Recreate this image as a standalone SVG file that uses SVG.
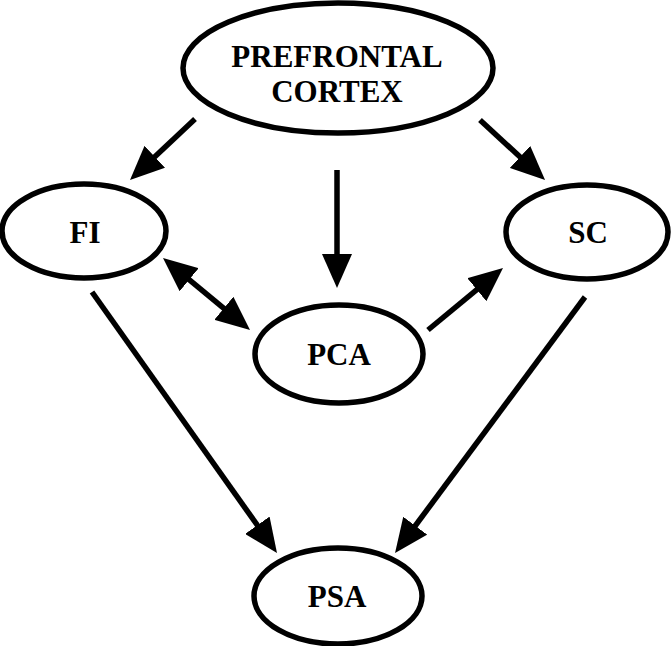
<svg xmlns="http://www.w3.org/2000/svg" width="672" height="646" viewBox="0 0 672 646">
<style>
.node ellipse{fill:#fff;stroke:#000;stroke-width:5.5}
.node text{font-family:"Liberation Serif","Times New Roman",serif;font-weight:bold;font-size:31px;text-anchor:middle;fill:#000}
.edges line{stroke:#000;stroke-width:5.5}
</style>
<defs>
<marker id="ah" markerUnits="userSpaceOnUse" markerWidth="34" markerHeight="30" refX="24" refY="15" orient="auto-start-reverse" viewBox="0 0 34 30">
<path d="M0,0 L34,15 L0,30 z" fill="#000"/>
</marker>
</defs>
<rect width="672" height="646" fill="#fff"/>
<g id="pfc" class="node">
<ellipse cx="338" cy="68" rx="155" ry="65"/>
<text x="337" y="67">PREFRONTAL</text>
<text x="337" y="102">CORTEX</text>
</g>
<g id="fi" class="node">
<ellipse cx="84" cy="231" rx="82" ry="47"/>
<text x="85" y="243">FI</text>
</g>
<g id="sc" class="node">
<ellipse cx="587" cy="232" rx="81" ry="47"/>
<text x="588" y="243">SC</text>
</g>
<g id="pca" class="node">
<ellipse cx="339" cy="354" rx="84" ry="49"/>
<text x="339" y="365">PCA</text>
</g>
<g id="psa" class="node">
<ellipse cx="338" cy="596" rx="84" ry="48"/>
<text x="337" y="607">PSA</text>
</g>
<g id="connectors" class="edges">
<line x1="195" y1="119" x2="137.3" y2="173.2" marker-end="url(#ah)"/>
<line x1="480" y1="120" x2="537.7" y2="173.2" marker-end="url(#ah)"/>
<line x1="337" y1="170" x2="337" y2="278" marker-end="url(#ah)"/>
<line x1="170.7" y1="264.4" x2="242.3" y2="323.6" marker-start="url(#ah)" marker-end="url(#ah)"/>
<line x1="428" y1="330" x2="495.3" y2="274.4" marker-end="url(#ah)"/>
<line x1="92" y1="292" x2="271.2" y2="544.8" marker-end="url(#ah)"/>
<line x1="585" y1="297" x2="401" y2="545" marker-end="url(#ah)"/>
</g>
</svg>
